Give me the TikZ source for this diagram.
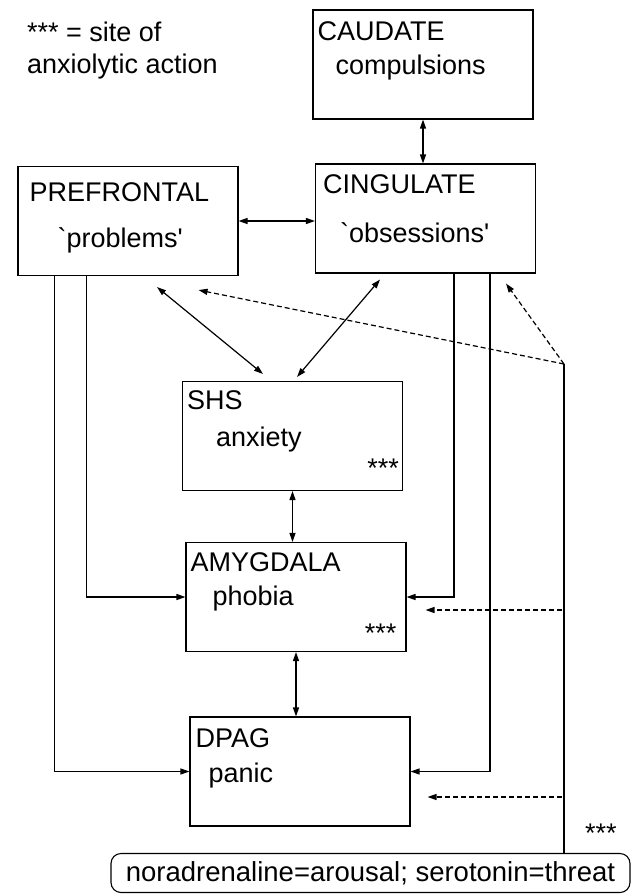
\documentclass[tikz,border=0pt]{standalone}
\usepackage{fontspec}
\setmainfont{Liberation Sans}
\usetikzlibrary{arrows.meta}
\usetikzlibrary{calc}

\begin{document}
\begin{tikzpicture}[x=1pt,y=-1pt,
            area/.style={draw,line width=1.1pt,minimum width=220pt,minimum height=109pt,inner sep=0pt},
            lbl/.style={anchor=west,inner sep=0pt,font=\fontsize{27}{32}\selectfont},
            link/.style={line width=1.2pt},
            both/.style={link,{Triangle[length=9pt,width=6pt]}-{Triangle[length=9pt,width=6pt]}},
            into/.style={link,-{Triangle[length=9pt,width=6pt]}},
            modul/.style={link,dash pattern=on 5pt off 3pt,-{Triangle[length=9pt,width=6pt]}}]
            \useasboundingbox (0,0) rectangle (632,894);

            \foreach \n/\x/\y in {cau/423/64.5,cin/425.5/218.5,pfc/128/221,shs/292.5/436,amy/296/597,dpag/300/771.5}{
                \node[area] (\n) at (\x,\y) {};
            }

            \node[lbl,align=left] (key) at (27,51) {*** = site of\\anxiolytic action};

            \node[lbl] (caut) at ($(cau.north west)+(5,22)$) {CAUDATE};
            \node[lbl] (caus) at ($(cau.north west)+(23,58)$) {compulsions};
            \node[lbl] (cint) at ($(cin.north west)+(8,21)$) {CINGULATE};
            \node[lbl] (cins) at ($(cin.north west)+(25,69)$) {\textasciigrave obsessions\textquotesingle};
            \node[lbl] (pfct) at ($(pfc.north west)+(12,26)$) {PREFRONTAL};
            \node[lbl] (pfcs) at ($(pfc.north west)+(40,74)$) {\textasciigrave problems\textquotesingle};
            \node[lbl] (shst) at ($(shs.north west)+(5,19)$) {SHS};
            \node[lbl] (shss) at ($(shs.north west)+(34,59)$) {anxiety};
            \node[lbl,anchor=east] (shsx) at ($(shs.south east)+(-4,-23)$) {***};
            \node[lbl] (amyt) at ($(amy.north west)+(5,20)$) {AMYGDALA};
            \node[lbl] (amys) at ($(amy.north west)+(27,57)$) {phobia};
            \node[lbl,anchor=east] (amyx) at ($(amy.south east)+(-10,-19)$) {***};
            \node[lbl] (dpagt) at ($(dpag.north west)+(6,22)$) {DPAG};
            \node[lbl] (dpags) at ($(dpag.north west)+(19,59)$) {panic};

            \node[draw,line width=1.1pt,rounded corners=10pt,minimum width=519pt,minimum height=39pt,inner sep=0pt,
                font=\fontsize{27.5}{32}\selectfont] (nt) at (370.5,873) {noradrenaline=arousal; serotonin=threat};
            \node[lbl] (ntx) at (585,833) {***};
            \coordinate (hub) at (564,364);
            \coordinate (amyin) at ($(amy.east)+(19,13)$);
            \coordinate (dpagin) at ($(dpag.east)+(17,25.5)$);

            \draw[both] (cau.south) -- (cau.south |- cin.north);
            \draw[both] (pfc.east) -- (pfc.east -| cin.west);
            \draw[both] ($(pfc.south)+(29,11)$) -- ($(shs.north)+(-29.5,-7)$);
            \draw[both] ($(cin.south)+(-45.5,6)$) -- ($(shs.north)+(4.5,-4)$);
            \draw[both] (shs.south) -- (shs.south |- amy.north);
            \draw[both] (amy.south) -- (amy.south |- dpag.north);

            \draw[into] ([xshift=37pt]pfc.south west) |- (dpag.west);
            \draw[into] ([xshift=69pt]pfc.south west) |- (amy.west);
            \draw[into] ([xshift=-82pt]cin.south east) |- (amy.east);
            \draw[into] ([xshift=-46pt]cin.south east) |- (dpag.east);

            \draw[link] (nt.north -| hub) -- (hub);
            \draw[modul] (hub) -- ($(pfc.south east)+(-40,14)$);
            \draw[modul] (hub) -- ($(cin.south east)+(-30,10)$);
            \draw[modul,shorten <=2pt] (hub |- amyin) -- (amyin);
            \draw[modul,shorten <=2pt] (hub |- dpagin) -- (dpagin);
        \end{tikzpicture}
\end{document}
